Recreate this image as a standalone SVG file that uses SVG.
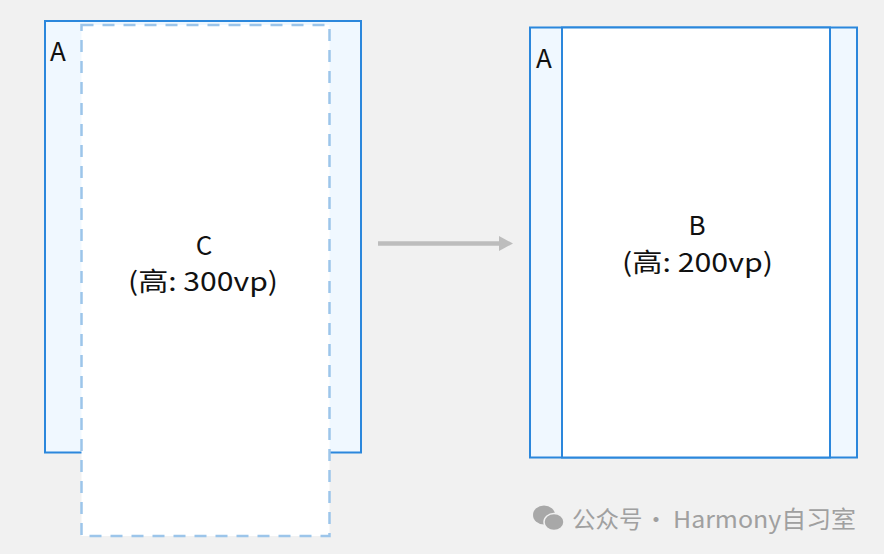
<svg xmlns="http://www.w3.org/2000/svg" width="884" height="554" viewBox="0 0 884 554">
<style>
.box{fill:#f0f8ff;stroke:#2b87dc;stroke-width:2}
.inner{fill:#ffffff;stroke:#2b87dc;stroke-width:2}
.dash{fill:#ffffff;stroke:#9cc5ea;stroke-width:2.5;stroke-dasharray:12 9}
.lbl{font-family:"Noto Sans CJK SC","Noto Sans",sans-serif;font-size:26px;fill:#111111}
.ctr{text-anchor:middle}
.wm{font-family:"Noto Sans CJK SC","Noto Sans",sans-serif;font-size:23.5px;fill:#a0a0a0}
</style>
<defs>
<marker id="ah" viewBox="0 0 14 15" refX="0" refY="7.5" markerWidth="14" markerHeight="15" markerUnits="userSpaceOnUse" orient="auto">
<path d="M0,0 L14,7.5 L0,15 Z" fill="#bdbdbd"/>
</marker>
</defs>
<rect width="884" height="554" fill="#f1f1f1"/>
<g id="left-A">
<rect class="box" x="45" y="21" width="316" height="431.5"/>
<text class="lbl" x="50" y="61">A</text>
</g>
<g id="node-C">
<rect class="dash" x="81.5" y="25" width="248" height="511"/>
<text class="lbl ctr" x="204" y="255">C</text>
<text class="lbl ctr" x="203" y="291" textLength="150" lengthAdjust="spacingAndGlyphs">(高: 300vp)</text>
</g>
<g id="right-A">
<rect class="box" x="530" y="27.5" width="327" height="430"/>
<text class="lbl" x="536" y="68">A</text>
</g>
<g id="node-B">
<rect class="inner" x="562" y="27.5" width="268" height="430"/>
<text class="lbl ctr" x="697" y="235">B</text>
<text class="lbl ctr" x="697.5" y="271.5" textLength="151" lengthAdjust="spacingAndGlyphs">(高: 200vp)</text>
</g>
<g id="connectors">
<line x1="378" y1="243.5" x2="499" y2="243.5" stroke="#bdbdbd" stroke-width="4.5" marker-end="url(#ah)"/>
</g>
<g id="watermark">
<ellipse cx="544" cy="515" rx="11" ry="9.5" fill="#a8a8a8"/>
<ellipse cx="554" cy="522" rx="10" ry="8.5" fill="#a8a8a8" stroke="#f1f1f1" stroke-width="1.5"/>
<text class="wm" x="572" y="528">公众号</text>
<text class="wm" x="656" y="528" text-anchor="middle">·</text>
<text class="wm" x="673" y="528" textLength="183" lengthAdjust="spacingAndGlyphs">Harmony自习室</text>
</g>
</svg>
